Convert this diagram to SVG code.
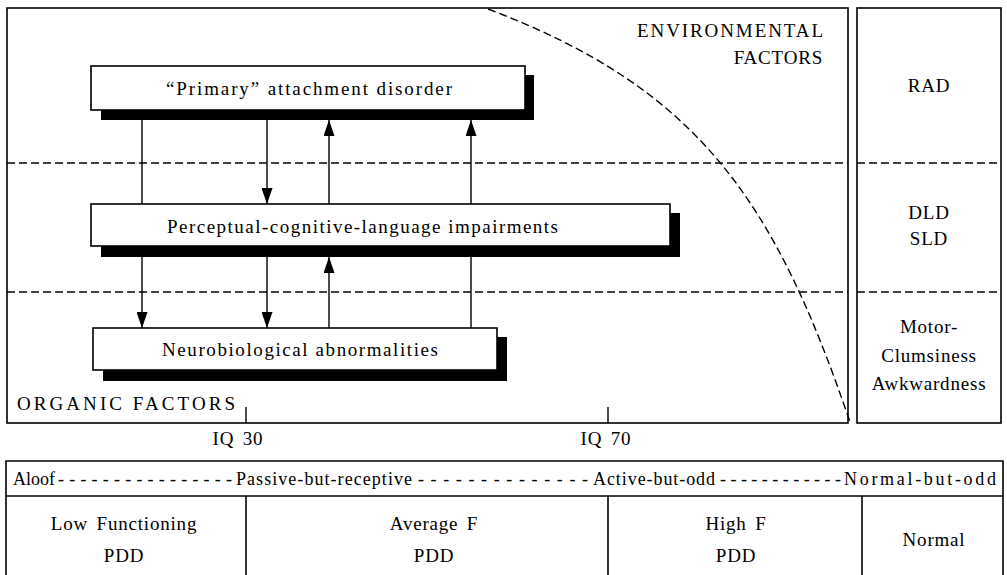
<svg xmlns="http://www.w3.org/2000/svg" width="1007" height="575" viewBox="0 0 1007 575">
<style>
text{font-family:"Liberation Serif","Times New Roman",serif;font-size:19px;fill:#000;letter-spacing:0.8px;word-spacing:3px}
.fit{letter-spacing:0;word-spacing:0}
.sm{font-size:18px}
.c{text-anchor:middle}
.r{text-anchor:end}
.frame{fill:none;stroke:#000;stroke-width:1.6}
.dash{fill:none;stroke:#000;stroke-width:1.4;stroke-dasharray:8 4}
.box{fill:#fff;stroke:#000;stroke-width:1.6}
.shadow{fill:#000}
.conn{stroke:#000;stroke-width:1.4;fill:none}
</style>
<defs>
<marker id="down" markerUnits="userSpaceOnUse" markerWidth="11" markerHeight="16" viewBox="0 0 11 16" refX="5.5" refY="16" orient="0">
<path d="M0,0 L11,0 L5.5,16 Z" fill="#000"/>
</marker>
<marker id="up" markerUnits="userSpaceOnUse" markerWidth="11" markerHeight="16" viewBox="0 0 11 16" refX="5.5" refY="0" orient="0">
<path d="M0,16 L11,16 L5.5,0 Z" fill="#000"/>
</marker>
</defs>

<g id="frames">
<rect class="frame" x="7" y="8" width="841" height="415"/>
<rect class="frame" x="857" y="8" width="144" height="415"/>
<line class="dash" x1="7" y1="163" x2="848" y2="163"/>
<line class="dash" x1="857" y1="163" x2="1001" y2="163"/>
<line class="dash" x1="7" y1="292" x2="848" y2="292"/>
<line class="dash" x1="857" y1="292" x2="1001" y2="292"/>
<path class="dash" d="M488,9 C700,89 775,202 850,422"/>
<line class="conn" x1="246" y1="407" x2="246" y2="423"/>
<line class="conn" x1="608" y1="407" x2="608" y2="423"/>
<text class="fit" x="637" y="37" textLength="186" lengthAdjust="spacing">ENVIRONMENTAL</text>
<text class="r" x="823" y="64">FACTORS</text>
<text class="fit" x="17" y="410" textLength="218" lengthAdjust="spacing">ORGANIC FACTORS</text>
<text class="c" x="929" y="92">RAD</text>
<text class="c" x="929" y="219">DLD</text>
<text class="c" x="929" y="245">SLD</text>
<text class="c" x="929" y="333">Motor-</text>
<text class="c" x="929" y="362">Clumsiness</text>
<text class="c" x="929" y="390">Awkwardness</text>
<text class="c" x="238" y="445">IQ 30</text>
<text class="c" x="606" y="445">IQ 70</text>
</g>

<g id="node-primary">
<rect class="shadow" x="101" y="75" width="433" height="45"/>
<rect class="box" x="91" y="66" width="434" height="44"/>
<text class="fit" x="166" y="95" textLength="286" lengthAdjust="spacing">“Primary” attachment disorder</text>
</g>

<g id="node-perceptual">
<rect class="shadow" x="101" y="213" width="579" height="44"/>
<rect class="box" x="91" y="204" width="579" height="42"/>
<text class="fit" x="167" y="233" textLength="391" lengthAdjust="spacing">Perceptual-cognitive-language impairments</text>
</g>

<g id="node-neuro">
<rect class="shadow" x="103" y="337" width="404" height="44"/>
<rect class="box" x="93" y="328" width="404" height="42"/>
<text class="fit" x="162" y="356" textLength="276" lengthAdjust="spacing">Neurobiological abnormalities</text>
</g>

<g id="connectors">
<line class="conn" x1="142" y1="120" x2="142" y2="204"/>
<line class="conn" x1="267" y1="120" x2="267" y2="204" marker-end="url(#down)"/>
<line class="conn" x1="329" y1="204" x2="329" y2="120" marker-end="url(#up)"/>
<line class="conn" x1="471" y1="204" x2="471" y2="120" marker-end="url(#up)"/>
<line class="conn" x1="142" y1="257" x2="142" y2="328" marker-end="url(#down)"/>
<line class="conn" x1="267" y1="257" x2="267" y2="328" marker-end="url(#down)"/>
<line class="conn" x1="329" y1="328" x2="329" y2="257" marker-end="url(#up)"/>
<line class="conn" x1="471" y1="257" x2="471" y2="328"/>
</g>

<g id="table">
<path class="frame" d="M6,580 V461 H1003 V580"/>
<line class="frame" x1="6" y1="496" x2="1003" y2="496"/>
<line class="frame" x1="246" y1="496" x2="246" y2="580"/>
<line class="frame" x1="608" y1="496" x2="608" y2="580"/>
<line class="frame" x1="862" y1="496" x2="862" y2="580"/>
<text class="fit sm" x="13" y="485">Aloof</text>
<text class="fit sm" x="58" y="485" textLength="174" lengthAdjust="spacing">----------------</text>
<text class="fit sm" x="236" y="485" textLength="176" lengthAdjust="spacing">Passive-but-receptive</text>
<text class="fit sm" x="418" y="485" textLength="170" lengthAdjust="spacing">--------------</text>
<text class="fit sm" x="593" y="485" textLength="122" lengthAdjust="spacing">Active-but-odd</text>
<text class="fit sm" x="720" y="485" textLength="121" lengthAdjust="spacing">------------</text>
<text class="fit sm" x="844" y="485" textLength="152" lengthAdjust="spacing">Normal-but-odd</text>
<text class="c" x="124" y="530">Low Functioning</text>
<text class="c" x="124" y="562">PDD</text>
<text class="c" x="434" y="530">Average F</text>
<text class="c" x="434" y="562">PDD</text>
<text class="c" x="736" y="530">High F</text>
<text class="c" x="736" y="562">PDD</text>
<text class="c" x="934" y="546">Normal</text>
</g>
</svg>
